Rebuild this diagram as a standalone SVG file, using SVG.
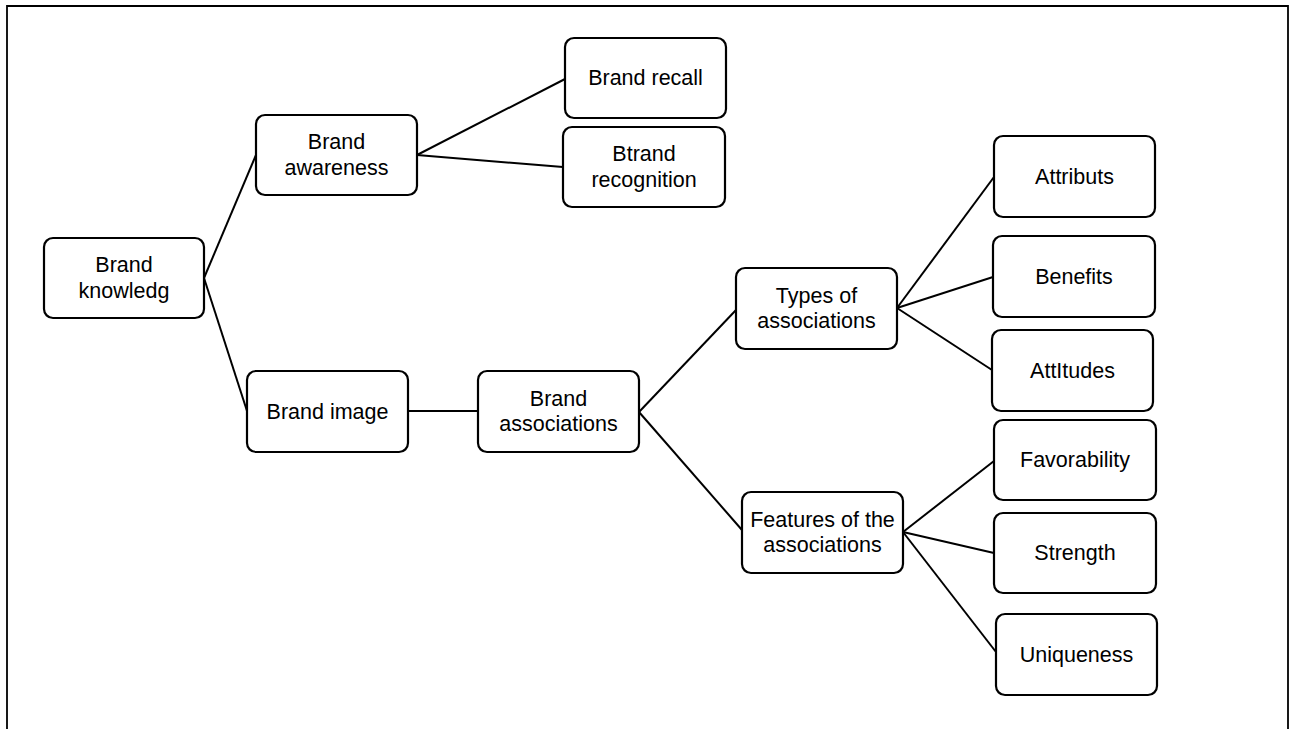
<svg xmlns="http://www.w3.org/2000/svg" width="1295" height="729" viewBox="0 0 1295 729">
<style>
.box{fill:#fff;stroke:#000;stroke-width:2.2}
.lbl{font-family:"Liberation Sans",Arial,sans-serif;font-size:21.5px;fill:#000;text-anchor:middle}
.con line{stroke:#000;stroke-width:2}
.frame{fill:none;stroke:#000;stroke-width:1.8}
</style>
<rect width="1295" height="729" fill="#fff"/>
<path class="frame" d="M7,735 V6 H1288 V735"/>
<g id="connectors" class="con">
<line x1="204" y1="278" x2="256" y2="155"/>
<line x1="204" y1="278" x2="247" y2="411"/>
<line x1="417" y1="155" x2="565" y2="79"/>
<line x1="417" y1="155" x2="563" y2="167"/>
<line x1="408" y1="411" x2="478" y2="411"/>
<line x1="639" y1="412" x2="736" y2="310"/>
<line x1="639" y1="412" x2="742" y2="530"/>
<line x1="897" y1="308" x2="994" y2="177"/>
<line x1="897" y1="308" x2="993" y2="277"/>
<line x1="897" y1="308" x2="992" y2="370"/>
<line x1="903" y1="532" x2="994" y2="461"/>
<line x1="903" y1="532" x2="994" y2="553"/>
<line x1="903" y1="532" x2="996" y2="652"/>
</g>
<g id="knowledge"><rect class="box" x="44" y="238" width="160" height="80" rx="9"/><text class="lbl" x="124" y="272">Brand</text><text class="lbl" x="124" y="297.5">knowledg</text></g>
<g id="awareness"><rect class="box" x="256" y="115" width="161" height="80" rx="9"/><text class="lbl" x="336.5" y="149">Brand</text><text class="lbl" x="336.5" y="174.5">awareness</text></g>
<g id="recall"><rect class="box" x="565" y="38" width="161" height="80" rx="9"/><text class="lbl" x="645.5" y="85">Brand recall</text></g>
<g id="recognition"><rect class="box" x="563" y="127" width="162" height="80" rx="9"/><text class="lbl" x="644" y="161">Btrand</text><text class="lbl" x="644" y="186.5">recognition</text></g>
<g id="image"><rect class="box" x="247" y="371" width="161" height="81" rx="9"/><text class="lbl" x="327.5" y="418.5">Brand image</text></g>
<g id="associations"><rect class="box" x="478" y="371" width="161" height="81" rx="9"/><text class="lbl" x="558.5" y="405.5">Brand</text><text class="lbl" x="558.5" y="431">associations</text></g>
<g id="types"><rect class="box" x="736" y="268" width="161" height="81" rx="9"/><text class="lbl" x="816.5" y="302.5">Types of</text><text class="lbl" x="816.5" y="328">associations</text></g>
<g id="features"><rect class="box" x="742" y="492" width="161" height="81" rx="9"/><text class="lbl" x="822.5" y="526.5">Features of the</text><text class="lbl" x="822.5" y="552">associations</text></g>
<g id="attributs"><rect class="box" x="994" y="136" width="161" height="81" rx="9"/><text class="lbl" x="1074.5" y="183.5">Attributs</text></g>
<g id="benefits"><rect class="box" x="993" y="236" width="162" height="81" rx="9"/><text class="lbl" x="1074" y="283.5">Benefits</text></g>
<g id="attitudes"><rect class="box" x="992" y="330" width="161" height="81" rx="9"/><text class="lbl" x="1072.5" y="377.5">AttItudes</text></g>
<g id="favorability"><rect class="box" x="994" y="420" width="162" height="80" rx="9"/><text class="lbl" x="1075" y="467">Favorability</text></g>
<g id="strength"><rect class="box" x="994" y="513" width="162" height="80" rx="9"/><text class="lbl" x="1075" y="560">Strength</text></g>
<g id="uniqueness"><rect class="box" x="996" y="614" width="161" height="81" rx="9"/><text class="lbl" x="1076.5" y="661.5">Uniqueness</text></g>
</svg>
